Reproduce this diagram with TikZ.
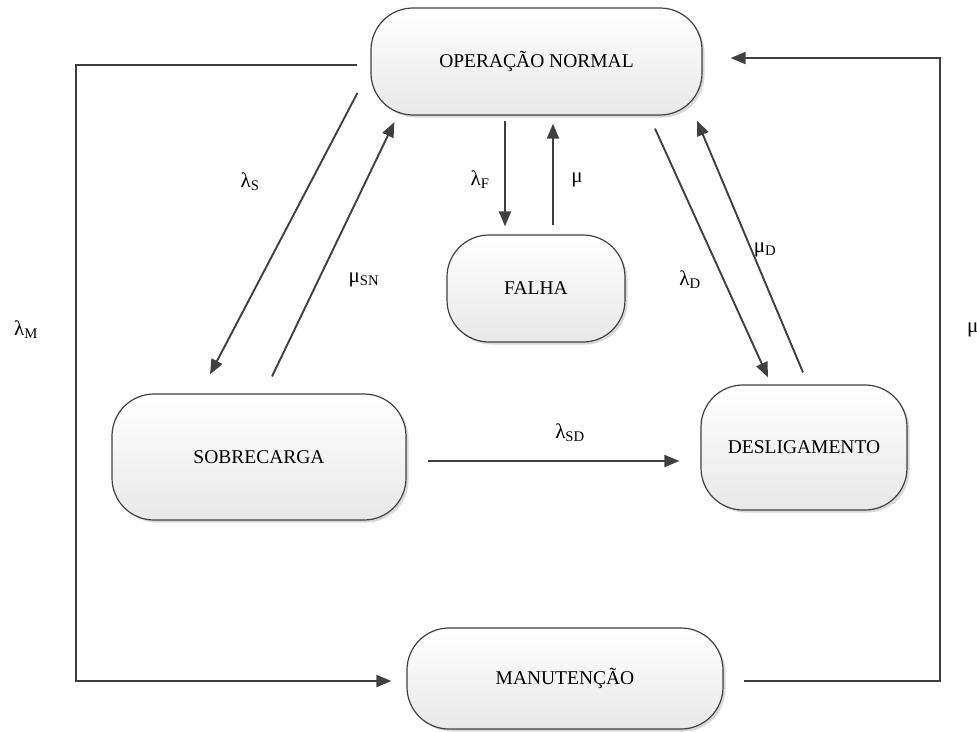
\documentclass[tikz,border=0pt]{standalone}
\usepackage{fontspec}
\setmainfont{Liberation Serif}
\usetikzlibrary{arrows.meta,shadows,calc}
\begin{document}
\begin{tikzpicture}[x=1pt,y=-1pt,
  state/.style={draw=black!75, line width=1.2pt, rounded corners=42pt,
    top color=white, bottom color=black!9,
    drop shadow={shadow xshift=2.5pt, shadow yshift=-2.5pt, opacity=0.25, fill=black!60},
    font=\fontsize{19.5}{22}\selectfont, inner sep=0pt},
  link/.style={draw=black!75, line width=1.9pt, -{Triangle[length=15pt,width=12pt]}},
  lbl/.style={font=\fontsize{21}{24}\selectfont, inner sep=0pt}
]
\useasboundingbox (0,0) rectangle (977,731);

\node[state, minimum width=331pt, minimum height=107pt] (on) at (536.5,61.5) {OPERAÇÃO NORMAL};
\node[state, minimum width=178pt, minimum height=107pt] (fa) at (536,288.5) {FALHA};
\node[state, minimum width=294pt, minimum height=126pt] (so) at (259,457) {SOBRECARGA};
\node[state, minimum width=206pt, minimum height=125pt] (de) at (804,447.5) {DESLIGAMENTO};
\node[state, minimum width=316pt, minimum height=101pt] (ma) at (565,678.5) {MANUTENÇÃO};

\coordinate (lc) at (76,65);
\coordinate (rc) at (940,58);

% maintenance loops
\draw[link] ([shift={(-13,3.5)}]on.west) -| (lc) |- ([shift={(-15,2.5)}]ma.west);
\draw[link] ([shift={(20,2.5)}]ma.east) -| (rc) -- ([shift={(28,-3.5)}]on.east);

% failure
\draw[link] ([shift={(-31.5,5)}]on.south) -- ([shift={(-31,-8)}]fa.north);
\draw[link] ([shift={(17,-9)}]fa.north) -- ([shift={(16.5,8)}]on.south);

% overload
\draw[link] ([shift={(-13,31.5)}]on.west) -- ([shift={(-49,-19)}]so.north);
\draw[link] ([shift={(13,-17)}]so.north) -- ([shift={(24,60.5)}]on.west);

% shutdown
\draw[link] ([shift={(118.5,13)}]on.south) -- ([shift={(-36,-7)}]de.north);
\draw[link] ([shift={(-1,-12)}]de.north) -- ([shift={(160.5,5)}]on.south);

% overload -> shutdown
\draw[link] ([shift={(21,4)}]so.east) -- ([shift={(-21,13.5)}]de.west);

% labels
\node[lbl] (ls) at (250,182) {λ\textsubscript{S}};
\node[lbl] (msn) at (364,280) {μ\textsubscript{SN}};
\node[lbl] (lf) at (480,180) {λ\textsubscript{F}};
\node[lbl] (mf) at (577,180) {μ};
\node[lbl] (md) at (765,250) {μ\textsubscript{D}};
\node[lbl] (ld) at (690,280) {λ\textsubscript{D}};
\node[lbl] (lsd) at (570,433) {λ\textsubscript{SD}};
\node[lbl] (lm) at (26,330) {λ\textsubscript{M}};
\node[lbl, anchor=west] (mm) at (967,330) {μ};
\end{tikzpicture}
\end{document}
